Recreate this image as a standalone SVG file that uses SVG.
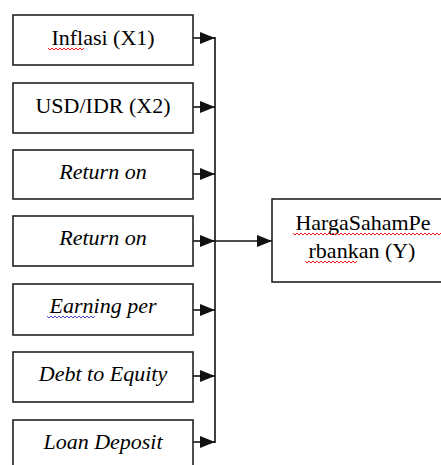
<svg xmlns="http://www.w3.org/2000/svg" width="441" height="465" viewBox="0 0 441 465">
<style>
.box{fill:#fff;stroke:#222;stroke-width:1.6}
.c{fill:none;stroke:#111;stroke-width:1.6}
.sq{fill:none;stroke:#e00;stroke-width:0.9}
.sqb{fill:none;stroke:#33c;stroke-width:0.9}
</style>
<defs>
<marker id="ah" markerWidth="15" markerHeight="12" refX="15" refY="6" orient="auto" markerUnits="userSpaceOnUse">
<path d="M0,0 L15,6 L0,12 Z" fill="#111"/>
</marker>
</defs>
<rect width="441" height="465" fill="#fff"/>
<g id="connectors">
<line class="c" x1="215" y1="37" x2="215" y2="443"/>
<line class="c" x1="193" y1="38" x2="215" y2="38" marker-end="url(#ah)"/>
<line class="c" x1="193" y1="107" x2="215" y2="107" marker-end="url(#ah)"/>
<line class="c" x1="193" y1="174" x2="215" y2="174" marker-end="url(#ah)"/>
<line class="c" x1="193" y1="241" x2="215" y2="241" marker-end="url(#ah)"/>
<line class="c" x1="193" y1="310" x2="215" y2="310" marker-end="url(#ah)"/>
<line class="c" x1="193" y1="376" x2="215" y2="376" marker-end="url(#ah)"/>
<line class="c" x1="193" y1="442" x2="215" y2="442" marker-end="url(#ah)"/>
<line class="c" x1="215" y1="241" x2="272" y2="241" marker-end="url(#ah)"/>
</g>
<g id="n1">
<rect class="box" x="13" y="15" width="180" height="50"/>
<text x="103" y="45" font-family="Times New Roman" font-size="22" text-anchor="middle">Inflasi (X1)</text>
<path class="sq" d="M48,48 l2,2 l2,-2 l2,2 l2,-2 l2,2 l2,-2 l2,2 l2,-2 l2,2 l2,-2 l2,2 l2,-2 l2,2 l2,-2 l2,2 l2,-2 l2,2 l2,-2"/>
</g>
<g id="n2">
<rect class="box" x="13" y="83" width="180" height="50"/>
<text x="103" y="113" font-family="Times New Roman" font-size="22" text-anchor="middle">USD/IDR (X2)</text>
</g>
<g id="n3">
<rect class="box" x="13" y="150" width="180" height="49"/>
<text x="103" y="179" font-family="Times New Roman" font-size="22" font-style="italic" text-anchor="middle">Return on</text>
</g>
<g id="n4">
<rect class="box" x="13" y="216" width="180" height="50"/>
<text x="103" y="245" font-family="Times New Roman" font-size="22" font-style="italic" text-anchor="middle">Return on</text>
</g>
<g id="n5">
<rect class="box" x="13" y="284" width="180" height="51"/>
<text x="103" y="313" font-family="Times New Roman" font-size="22" font-style="italic" text-anchor="middle">Earning per</text>
<path class="sqb" d="M47,316 l2,2 l2,-2 l2,2 l2,-2 l2,2 l2,-2 l2,2 l2,-2 l2,2 l2,-2 l2,2 l2,-2 l2,2 l2,-2 l2,2 l2,-2 l2,2 l2,-2 l2,2 l2,-2 l2,2 l2,-2 l2,2 l2,-2"/>
</g>
<g id="n6">
<rect class="box" x="13" y="352" width="180" height="50"/>
<text x="103" y="381" font-family="Times New Roman" font-size="22" font-style="italic" text-anchor="middle">Debt to Equity</text>
</g>
<g id="n7">
<rect class="box" x="13" y="420" width="180" height="60"/>
<text x="103" y="449" font-family="Times New Roman" font-size="22" font-style="italic" text-anchor="middle">Loan Deposit</text>
</g>
<g id="target">
<rect class="box" x="272" y="199" width="180" height="83"/>
<text x="363" y="230" font-family="Times New Roman" font-size="22" text-anchor="middle">HargaSahamPe</text>
<text x="362" y="258" font-family="Times New Roman" font-size="22" text-anchor="middle">rbankan (Y)</text>
<path class="sq" d="M293,233 l2,2 l2,-2 l2,2 l2,-2 l2,2 l2,-2 l2,2 l2,-2 l2,2 l2,-2 l2,2 l2,-2 l2,2 l2,-2 l2,2 l2,-2 l2,2 l2,-2 l2,2 l2,-2 l2,2 l2,-2 l2,2 l2,-2 l2,2 l2,-2 l2,2 l2,-2 l2,2 l2,-2 l2,2 l2,-2 l2,2 l2,-2 l2,2 l2,-2 l2,2 l2,-2 l2,2 l2,-2 l2,2 l2,-2 l2,2 l2,-2 l2,2 l2,-2 l2,2 l2,-2 l2,2 l2,-2 l2,2 l2,-2 l2,2 l2,-2 l2,2 l2,-2 l2,2 l2,-2 l2,2 l2,-2 l2,2 l2,-2 l2,2 l2,-2 l2,2 l2,-2 l2,2 l2,-2 l2,2 l2,-2 l2,2 l2,-2 l2,2 l2,-2 l2,2 l2,-2 l2,2 l2,-2 l2,2 l2,-2 l2,2"/>
<path class="sq" d="M305,261 l2,2 l2,-2 l2,2 l2,-2 l2,2 l2,-2 l2,2 l2,-2 l2,2 l2,-2 l2,2 l2,-2 l2,2 l2,-2 l2,2 l2,-2 l2,2 l2,-2 l2,2 l2,-2 l2,2 l2,-2 l2,2 l2,-2 l2,2 l2,-2"/>
</g>
</svg>
